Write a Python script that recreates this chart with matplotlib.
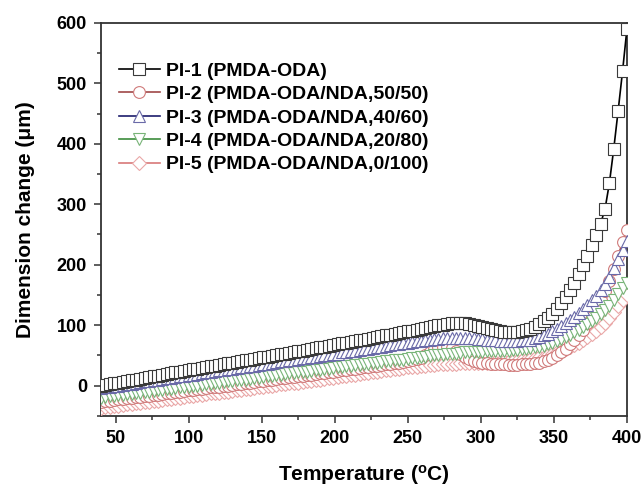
import matplotlib
matplotlib.use("Agg")
import matplotlib.pyplot as plt
from matplotlib.ticker import MultipleLocator

plt.rcParams['font.family'] = ['Liberation Sans', 'DejaVu Sans']

temps = list(range(40, 401, 3))

pi1 = [0, 1, 3, 4, 5, 6, 8, 9, 10, 11,
       13, 14, 15, 16, 18, 19, 20, 22, 23, 24,
       25, 27, 28, 29, 30, 32, 33, 34, 35, 37,
       38, 39, 41, 42, 43, 44, 46, 47, 48, 49,
       51, 52, 53, 54, 56, 57, 58, 59, 61, 62,
       63, 64, 66, 67, 68, 70, 71, 72, 73, 75,
       76, 77, 79, 80, 82, 83, 84, 86, 87, 88,
       90, 91, 92, 94, 95, 97, 98, 100, 101, 102,
       103, 103, 103, 103, 102, 101, 99, 97, 95, 93,
       92, 90, 89, 89, 89, 89, 90, 92, 94, 97,
       102, 107, 112, 118, 126, 136, 147, 158, 170, 185,
       200, 215, 232, 249, 268, 292, 335, 392, 455, 520,
       590]

pi2 = [-27, -26, -25, -24, -23, -22, -21, -20, -19, -19,
       -18, -17, -16, -15, -14, -13, -12, -11, -10, -9,
       -8, -7, -6, -5, -4, -3, -3, -2, -1, 0,
       1, 2, 3, 4, 5, 6, 7, 8, 9, 10,
       11, 12, 13, 14, 14, 15, 16, 17, 18, 19,
       20, 21, 22, 23, 24, 25, 26, 27, 28, 29,
       30, 31, 32, 33, 34, 35, 36, 37, 38, 39,
       40, 42, 44, 46, 50, 55, 60, 63, 64, 63,
       62, 58, 53, 48, 44, 41, 39, 38, 37, 36,
       36, 35, 35, 34, 34, 34, 35, 35, 36, 37,
       38, 41, 43, 46, 51, 56, 61, 68, 76, 84,
       92, 103, 114, 126, 141, 156, 173, 193, 215, 237,
       258]

pi3 = [-4, -3, -2, -1, 0, 1, 2, 3, 5, 6,
       7, 8, 9, 10, 11, 12, 13, 14, 15, 16,
       17, 18, 19, 20, 22, 23, 24, 25, 26, 27,
       28, 29, 30, 31, 32, 33, 34, 35, 36, 38,
       39, 40, 41, 42, 43, 44, 45, 46, 47, 48,
       49, 50, 51, 52, 53, 55, 56, 57, 58, 59,
       60, 61, 62, 63, 64, 65, 67, 68, 69, 70,
       71, 72, 73, 74, 75, 76, 77, 77, 78, 78,
       79, 79, 79, 79, 78, 78, 77, 77, 76, 75,
       75, 74, 74, 74, 74, 74, 75, 75, 76, 78,
       80, 83, 86, 90, 94, 98, 103, 108, 114, 120,
       126, 133, 141, 149, 158, 168, 180, 195, 210, 225,
       240]

pi4 = [-20, -19, -18, -17, -16, -15, -14, -14, -13, -12,
       -11, -10, -9, -8, -7, -6, -5, -4, -3, -2,
       -2, -1, 0, 1, 2, 3, 4, 5, 6, 7,
       8, 9, 10, 10, 11, 12, 13, 14, 15, 16,
       17, 18, 19, 20, 21, 22, 22, 23, 24, 25,
       26, 27, 28, 29, 30, 31, 32, 33, 34, 34,
       35, 36, 37, 38, 39, 40, 41, 42, 42, 43,
       44, 45, 46, 47, 48, 49, 50, 51, 51, 52,
       53, 53, 54, 55, 55, 56, 56, 56, 57, 57,
       57, 58, 58, 58, 59, 59, 60, 61, 62, 63,
       64, 66, 68, 71, 74, 77, 80, 84, 88, 92,
       97, 102, 107, 112, 118, 125, 132, 142, 152, 161,
       170]

pi5 = [-37, -36, -35, -34, -33, -32, -31, -30, -29, -29,
       -28, -27, -26, -25, -24, -23, -22, -21, -20, -19,
       -18, -17, -16, -15, -14, -13, -13, -12, -11, -10,
       -9, -8, -7, -6, -5, -4, -3, -2, -1, 0,
       1, 2, 3, 4, 4, 5, 6, 7, 8, 9,
       10, 11, 12, 13, 14, 15, 16, 17, 18, 19,
       20, 21, 22, 23, 24, 25, 26, 27, 28, 29,
       30, 31, 31, 32, 33, 34, 34, 35, 35, 36,
       36, 36, 37, 37, 37, 38, 38, 38, 38, 39,
       39, 39, 40, 40, 40, 41, 42, 43, 44, 45,
       47, 48, 50, 52, 55, 57, 60, 63, 67, 71,
       76, 81, 86, 91, 97, 104, 112, 121, 131, 141,
       150]

labels = ["PI-1 (PMDA-ODA)",
          "PI-2 (PMDA-ODA/NDA,50/50)",
          "PI-3 (PMDA-ODA/NDA,40/60)",
          "PI-4 (PMDA-ODA/NDA,20/80)",
          "PI-5 (PMDA-ODA/NDA,0/100)"]

series = [pi1, pi2, pi3, pi4, pi5]
markers = ['s', 'o', '^', 'v', 'D']
edge_colors = ['#3a3a3a', '#d07a7a', '#6a6aa8', '#78b478', '#eaa8a8']
line_colors = ['#000000', '#a04848', '#1c1c6c', '#3c8c3c', '#d87878']
msizes = [8, 8.5, 8.5, 8.5, 7]
zorders = [10, 6, 8, 7, 5]

fig = plt.figure(figsize=(6.43, 4.88), dpi=100)
ax = fig.add_axes([0.157, 0.148, 0.818, 0.805])

for ys, lab, mk, ec, lc, ms, z in zip(series, labels, markers, edge_colors,
                                      line_colors, msizes, zorders):
    ax.plot(temps, ys, color=lc, lw=1.2, marker=mk, ms=ms,
            markerfacecolor='white', markeredgecolor=ec, markeredgewidth=0.8,
            label=lab, zorder=z)

ax.set_xlim(40, 400)
ax.set_ylim(-50, 600)
ax.xaxis.set_major_locator(MultipleLocator(50))
ax.xaxis.set_minor_locator(MultipleLocator(25))
ax.yaxis.set_major_locator(MultipleLocator(100))
ax.yaxis.set_minor_locator(MultipleLocator(50))
ax.tick_params(which='both', direction='out', top=False, right=False,
               width=1.1, color='#333333')
ax.tick_params(which='major', length=5, labelsize=13, pad=5)
ax.tick_params(which='minor', length=3)
for lbl in ax.get_xticklabels() + ax.get_yticklabels():
    lbl.set_fontweight('bold')
for sp in ax.spines.values():
    sp.set_linewidth(1.3)
    sp.set_color('#333333')

ax.set_xlabel("Temperature ($\\mathregular{^o}$C)", fontsize=15,
              fontweight='bold', labelpad=12)
ax.set_ylabel("Dimension change (\u03bcm)", fontsize=15, fontweight='bold',
              labelpad=16)

leg = ax.legend(loc='upper left', bbox_to_anchor=(0.012, 0.93), frameon=False,
                prop={'weight': 'bold', 'size': 14}, handlelength=2.1,
                handletextpad=0.3, labelspacing=0.3, borderaxespad=0.2)

fig.savefig("out.png", dpi=100)
